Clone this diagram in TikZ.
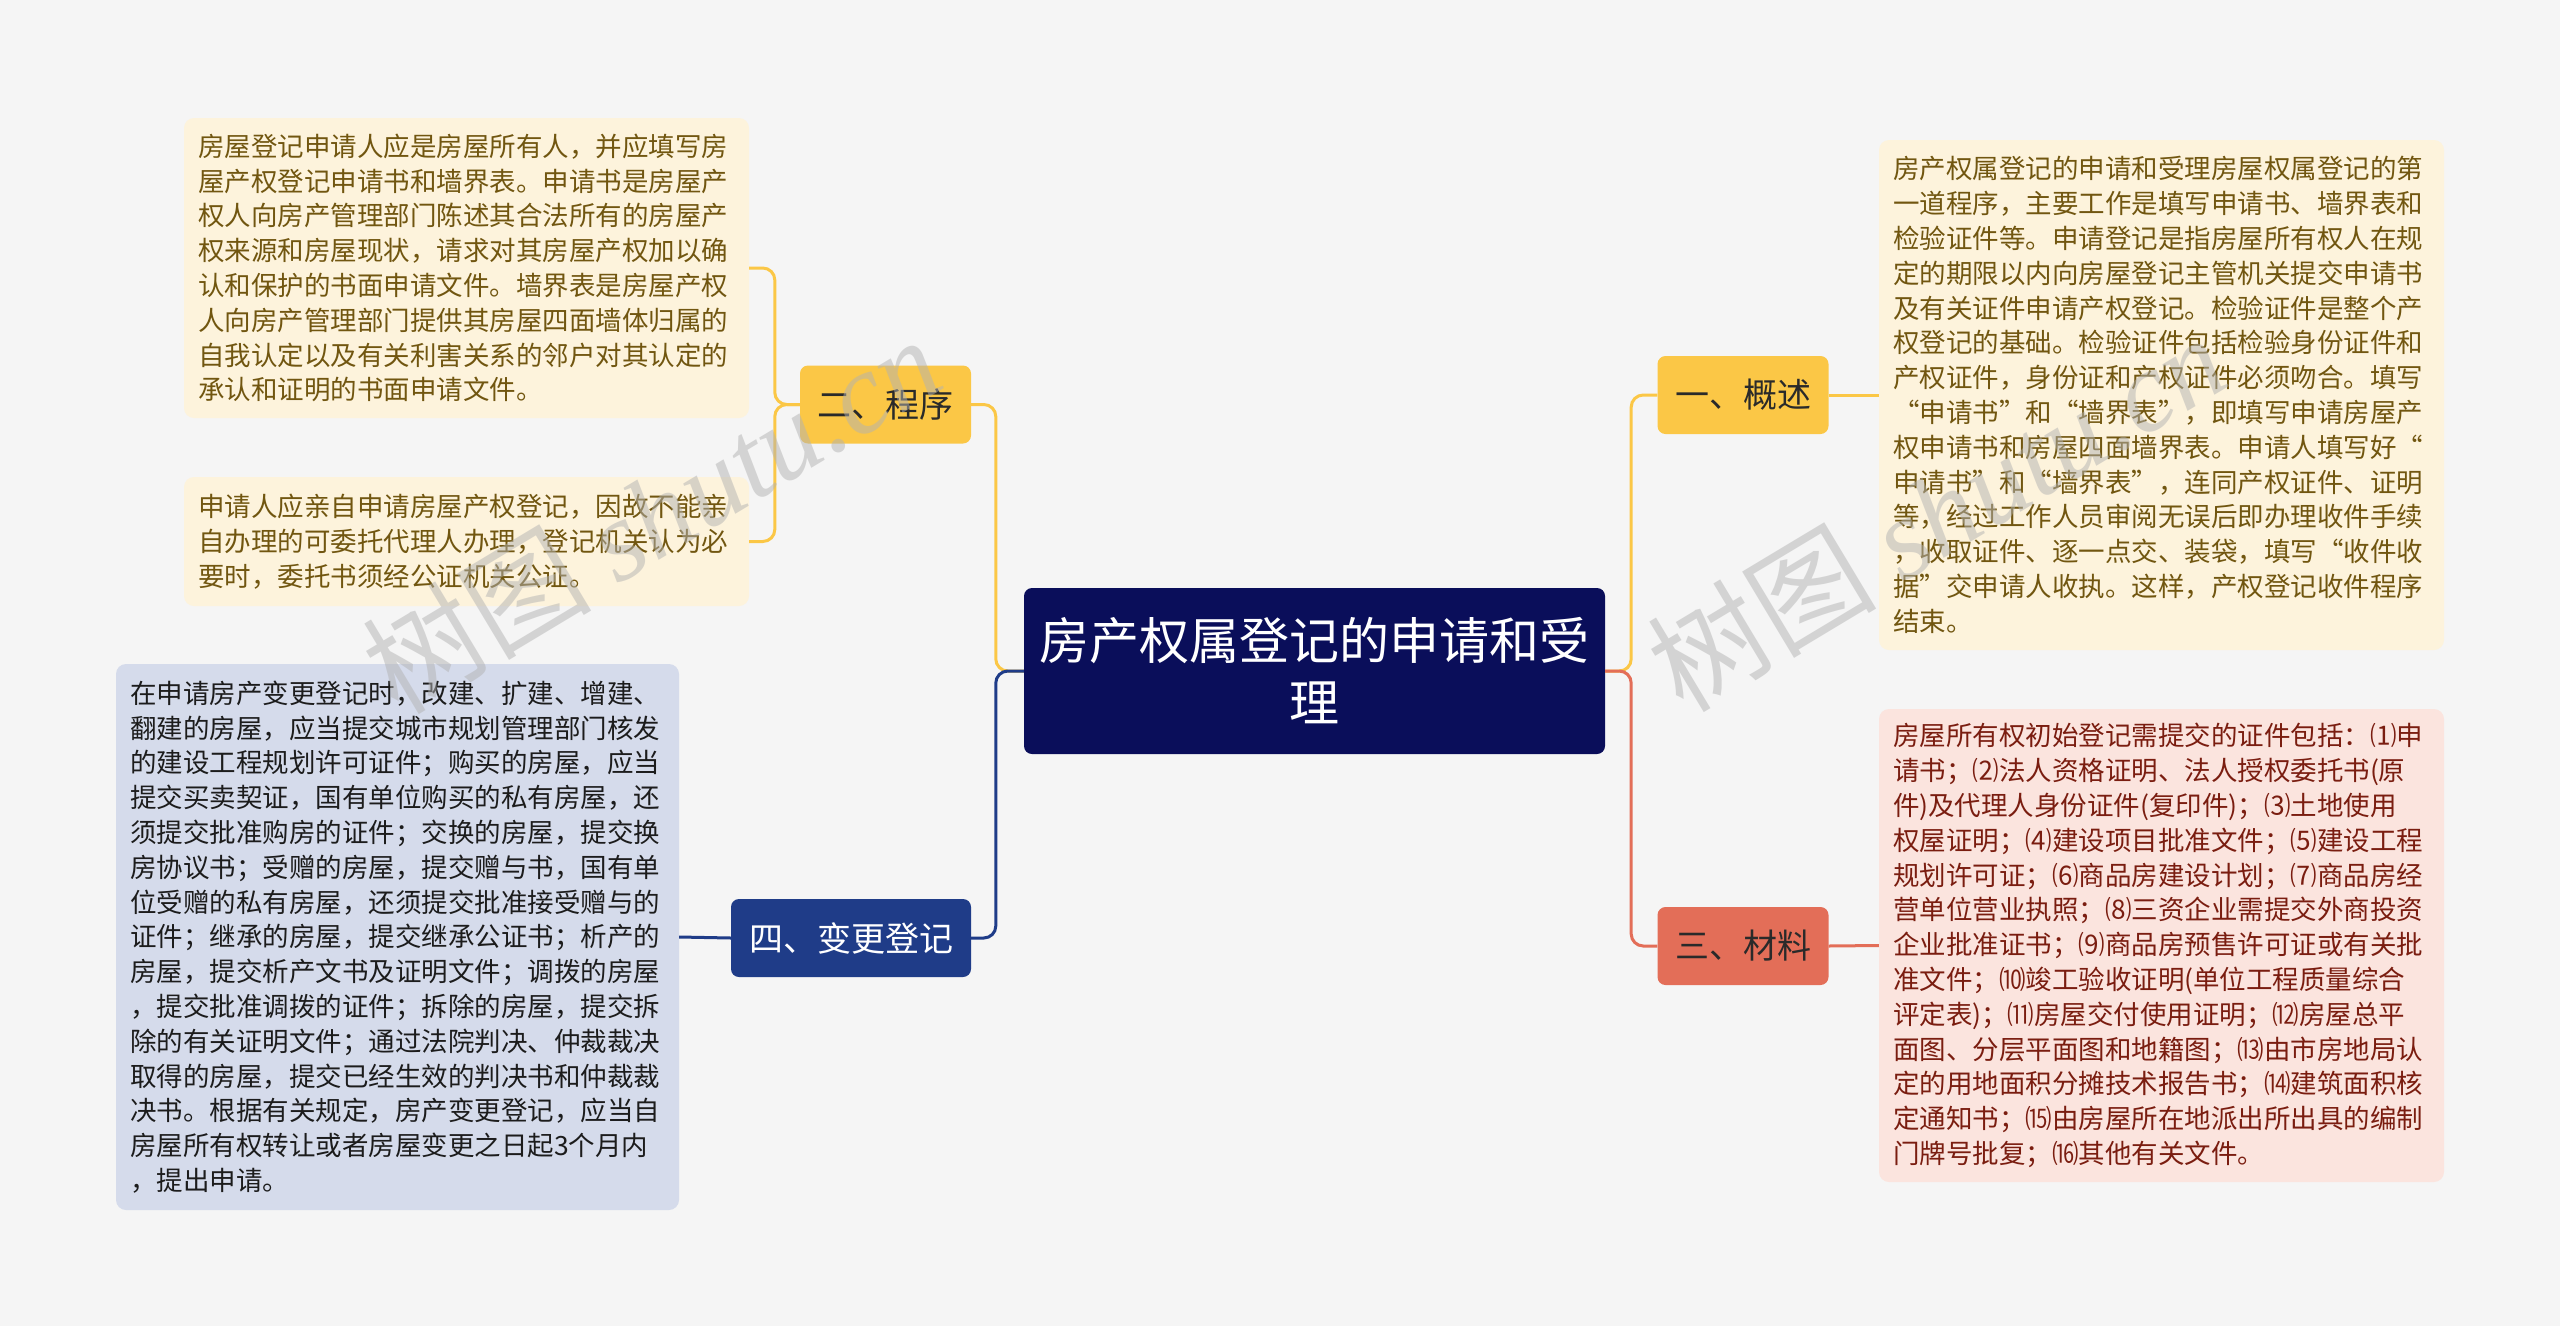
\documentclass[tikz,border=0pt]{standalone}
\usepackage{fontspec}
\setmainfont{Noto Sans CJK SC}
\newfontfamily\wmlatin{Liberation Serif}
\definecolor{bgc}{HTML}{F5F5F5}
\definecolor{navy}{HTML}{0A0E5A}
\definecolor{ylw}{HTML}{FBC746}
\definecolor{redn}{HTML}{E36E58}
\definecolor{bluen}{HTML}{1F3C88}
\definecolor{cream}{HTML}{FDF3DC}
\definecolor{creamtxt}{HTML}{715610}
\definecolor{pinkb}{HTML}{FBE4DE}
\definecolor{pinktxt}{HTML}{7A1D10}
\definecolor{blueb}{HTML}{D5DBEB}
\definecolor{bluetxt}{HTML}{1C1C1C}
\definecolor{darktxt}{HTML}{2A2A2A}
\begin{document}
\begin{tikzpicture}[x=1pt,y=-1pt,
  mainbox/.style={rectangle, rounded corners=8pt, fill=navy, text=white, align=center,
    minimum width=581pt, minimum height=166pt, inner sep=0pt,
    font=\fontsize{50}{62}\selectfont},
  lone/.style={rectangle, rounded corners=8pt, minimum width=171pt, minimum height=78pt,
    inner sep=0pt, font=\fontsize{34}{40}\selectfont},
  detail/.style={rectangle, rounded corners=10pt, inner xsep=14pt, inner ysep=0pt,
    align=left, text width=537pt, font=\fontsize{26.5}{34.8}\selectfont},
  link/.style={line width=3pt, rounded corners=12pt},
  wm/.style={text=gray!60, opacity=0.5, font=\fontsize{115}{120}\selectfont, rotate=31}
]
\fill[bgc] (0,0) rectangle (2560,1326);
\useasboundingbox (0,0) rectangle (2560,1326);

% central node
\node[mainbox] (c) at (1314.5,671) {房产权属登记的申请和受\\理};

% level-one nodes
\node[lone, fill=ylw, text=darktxt] (n2) at (885.5,404.5) {二、程序};
\node[lone, fill=ylw, text=darktxt] (n1) at (1743,395) {一、概述};
\node[lone, fill=bluen, text=white, minimum width=240pt] (n4) at (851,938) {四、变更登记};
\node[lone, fill=redn, text=darktxt] (n3) at (1743,946) {三、材料};

% detail boxes
\node[detail, fill=cream, text=creamtxt, minimum height=300pt] (d21) at (466.5,268) {房屋登记申请人应是房屋所有人，并应填写房\\屋产权登记申请书和墙界表。申请书是房屋产\\权人向房产管理部门陈述其合法所有的房屋产\\权来源和房屋现状，请求对其房屋产权加以确\\认和保护的书面申请文件。墙界表是房屋产权\\人向房产管理部门提供其房屋四面墙体归属的\\自我认定以及有关利害关系的邻户对其认定的\\承认和证明的书面申请文件。};

\node[detail, fill=cream, text=creamtxt, minimum height=129pt] (d22) at (466.5,541.5) {申请人应亲自申请房屋产权登记，因故不能亲\\自办理的可委托代理人办理，登记机关认为必\\要时，委托书须经公证机关公证。};

\node[detail, fill=blueb, text=bluetxt, minimum height=546pt, text width=535pt] (d41) at (397.5,937) {在申请房产变更登记时，改建、扩建、增建、\\翻建的房屋，应当提交城市规划管理部门核发\\的建设工程规划许可证件；购买的房屋，应当\\提交买卖契证，国有单位购买的私有房屋，还\\须提交批准购房的证件；交换的房屋，提交换\\房协议书；受赠的房屋，提交赠与书，国有单\\位受赠的私有房屋，还须提交批准接受赠与的\\证件；继承的房屋，提交继承公证书；析产的\\房屋，提交析产文书及证明文件；调拨的房屋\\，提交批准调拨的证件；拆除的房屋，提交拆\\除的有关证明文件；通过法院判决、仲裁裁决\\取得的房屋，提交已经生效的判决书和仲裁裁\\决书。根据有关规定，房产变更登记，应当自\\房屋所有权转让或者房屋变更之日起3个月内\\，提出申请。};

\node[detail, fill=cream, text=creamtxt, minimum height=510pt] (d11) at (2161.5,395) {房产权属登记的申请和受理房屋权属登记的第\\一道程序，主要工作是填写申请书、墙界表和\\检验证件等。申请登记是指房屋所有权人在规\\定的期限以内向房屋登记主管机关提交申请书\\及有关证件申请产权登记。检验证件是整个产\\权登记的基础。检验证件包括检验身份证件和\\产权证件，身份证和产权证件必须吻合。填写\\“申请书”和“墙界表”，即填写申请房屋产\\权申请书和房屋四面墙界表。申请人填写好“\\申请书”和“墙界表”，连同产权证件、证明\\等，经过工作人员审阅无误后即办理收件手续\\，收取证件、逐一点交、装袋，填写“收件收\\据”交申请人收执。这样，产权登记收件程序\\结束。};

\node[detail, fill=pinkb, text=pinktxt, minimum height=473pt] (d31) at (2161.5,945.5) {房屋所有权初始登记需提交的证件包括：⑴申\\请书；⑵法人资格证明、法人授权委托书(原\\件)及代理人身份证件(复印件)；⑶土地使用\\权屋证明；⑷建设项目批准文件；⑸建设工程\\规划许可证；⑹商品房建设计划；⑺商品房经\\营单位营业执照；⑻三资企业需提交外商投资\\企业批准证书；⑼商品房预售许可证或有关批\\准文件；⑽竣工验收证明(单位工程质量综合\\评定表)；⑾房屋交付使用证明；⑿房屋总平\\面图、分层平面图和地籍图；⒀由市房地局认\\定的用地面积分摊技术报告书；⒁建筑面积核\\定通知书；⒂由房屋所在地派出所出具的编制\\门牌号批复；⒃其他有关文件。};

% connectors from centre
\draw[link, ylw] (c.west) -- ++(-28,0) |- (n2.east);
\draw[link, bluen] (c.west) -- ++(-28,0) |- (n4.east);
\draw[link, ylw] (c.east) -- ++(26,0) |- (n1.west);
\draw[link, redn] (c.east) -- ++(26,0) |- (n3.west);

% connectors to details
\draw[link, ylw] (n2.west) -- ++(-25,0) |- (d21.east);
\draw[link, ylw] (n2.west) -- ++(-25,0) |- (d22.east);
\draw[link, bluen] (n4.west) -- (d41.east);
\draw[link, ylw] (n1.east) -- (d11.east -| d11.west);
\draw[link, redn] (n3.east) -- (d31.east -| d31.west);

% watermarks
\node[wm] (w1) at (651,514) {树图 {\wmlatin\itshape shutu.cn}};
\node[wm] (w2) at (1936,512) {树图 {\wmlatin\itshape shutu.cn}};
\end{tikzpicture}
\end{document}
